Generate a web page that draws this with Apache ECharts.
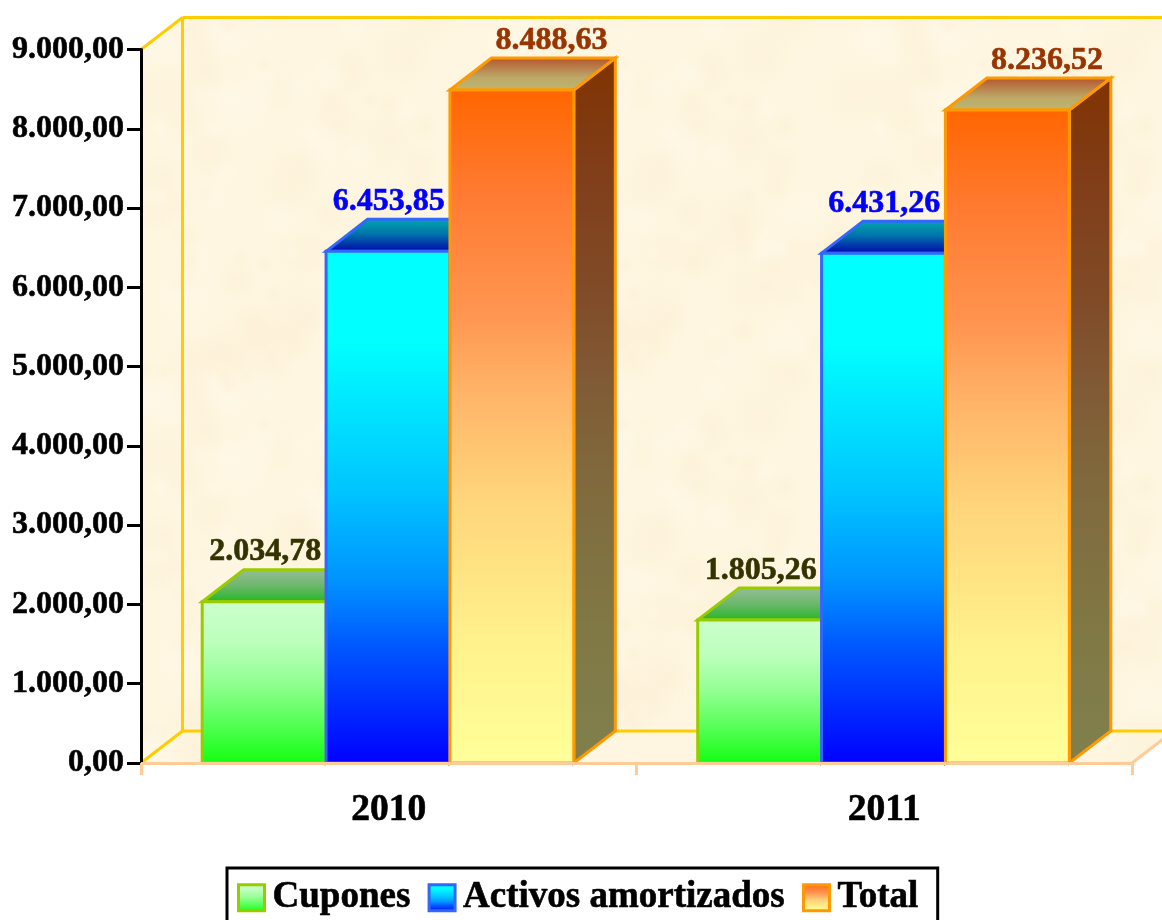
<!DOCTYPE html>
<html>
<head>
<meta charset="utf-8">
<style>html,body{margin:0;padding:0;background:#fff}#c{width:1162px;height:920px}</style>
<script src="https://cdn.jsdelivr.net/npm/echarts@6/dist/echarts.min.js"></script>
</head>
<body>
<div id="c"></div>
<script>
const categories = ['2010', '2011'];
const seriesNames = ['Cupones', 'Activos amortizados', 'Total'];
const cupones = [2034.78, 1805.26];
const activos = [6453.85, 6431.26];
const total = [8488.63, 8236.52];

const DEPTH_X = 41.5, DEPTH_Y = -32, BAR_RATIO = 0.25, SERIF = '"Liberation Serif"';
const LG = (stops) => new echarts.graphic.LinearGradient(0, 0, 0, 1, stops.map(s => ({ offset: s[0], color: s[1] })));
const dim = (stops, k) => stops.map(s => {
  const n = parseInt(s[1].slice(1), 16);
  const c = [n >> 16, (n >> 8) & 255, n & 255].map(v => Math.round(v * k));
  return [s[0], 'rgb(' + c.join(',') + ')'];
});
const looks = [
  { border: '#99CC00', text: '#333300', labelDx: 0.25,
    front: [[0, '#CCFFCC'], [0.25, '#BDFFBD'], [0.5, '#92FF92'], [0.75, '#55FF55'], [1, '#11FF11']],
    top: [[0, '#99BD99'], [0.5, '#6DB76D'], [1, '#1FB81F']] },
  { border: '#3366FF', text: '#0000FF', labelDx: 0,
    front: [[0, '#00FFFF'], [0.18, '#00FFFF'], [0.47, '#00C4FF'], [0.64, '#0094FF'], [0.77, '#0058FF'], [1, '#0000FF']],
    top: [[0, '#00ABAB'], [0.45, '#0075AB'], [1, '#0000AA']] },
  { border: '#FF9900', text: '#993300', labelDx: 38.75,
    front: [[0, '#FF6600'], [0.15, '#FF7A30'], [0.33, '#FF9550'], [0.45, '#FFB468'], [0.6, '#FFD47A'], [0.82, '#FFF28C'], [1, '#FFFF99']],
    top: [[0, '#B5512A'], [0.6, '#BCA868'], [1, '#BDB870']] }
];

// parchment texture of the chart walls (no randomness, a fixed hash)
const tex = document.createElement('canvas');
tex.width = tex.height = 360;
(function () {
  const g = tex.getContext('2d');
  g.fillStyle = '#FEF6E0';
  g.fillRect(0, 0, 360, 360);
  for (let i = 0; i < 110; i++) {
    const a = Math.abs(Math.sin(i * 12.9898) * 43758.5453) % 1;
    const b = Math.abs(Math.sin(i * 78.233) * 24634.6345) % 1;
    const x = a * 360, y = b * 360, r = 10 + (i % 5) * 6;
    const col = i % 3 === 0 ? '255,250,236' : '252,238,210';
    [[0, 0], [360, 0], [0, 360], [-360, 0], [0, -360]].forEach(o => {
      const rg = g.createRadialGradient(x + o[0], y + o[1], 0, x + o[0], y + o[1], r);
      rg.addColorStop(0, 'rgba(' + col + ',0.4)');
      rg.addColorStop(1, 'rgba(' + col + ',0)');
      g.fillStyle = rg;
      g.fillRect(x + o[0] - r, y + o[1] - r, 2 * r, 2 * r);
    });
  }
})();
const TEX = { image: tex, repeat: 'repeat' };

const fmt = (v) => {
  const p = Number(v).toFixed(2).split('.');
  return p[0].replace(/\B(?=(\d{3})+(?!\d))/g, '.') + ',' + p[1];
};

function renderWalls(params, api) {
  const cs = params.coordSys;
  const x0 = cs.x, x1 = cs.x + cs.width, yT = cs.y, yB = cs.y + cs.height;
  const bx0 = x0 + DEPTH_X, bx1 = x1 + DEPTH_X, byT = yT + DEPTH_Y, byB = yB + DEPTH_Y;
  const poly = (points, fill) => ({ type: 'polygon', shape: { points }, style: { fill, stroke: null } });
  const line = (a, b, c, d, col) => ({ type: 'line', shape: { x1: a, y1: b, x2: c, y2: d }, style: { stroke: col, lineWidth: 3 } });
  return { type: 'group', children: [
    poly([[bx0, byT], [bx1, byT], [bx1, byB], [bx0, byB]], TEX),
    poly([[x0, yT], [bx0, byT], [bx0, byB], [x0, yB]], TEX),
    poly([[x0, yB], [bx0, byB], [bx1, byB], [x1, yB]], TEX),
    line(bx0, byT, bx1, byT, '#FFCC00'),
    line(bx0, byT, bx0, byB, '#FFCC00'),
    line(bx0, byB, bx1, byB, '#FFCC00'),
    line(x0, yT, bx0, byT, '#FFCC00'),
    line(x0, yB, bx0, byB, '#FFCC00'),
    line(x1, yB, bx1, byB, '#FFCC99')
  ] };
}

function makeBar(idx) {
  const look = looks[idx];
  return function (params, api) {
    const cat = api.value(0), val = api.value(1);
    const base = api.coord([cat, 0]), peak = api.coord([cat, val]);
    const w = api.size([1, 0])[0] * BAR_RATIO;
    const x = base[0] + (idx - 1.5) * w - 0.75, y = peak[1], y0 = base[1];
    const sty = (fill) => ({ fill, stroke: look.border, lineWidth: 3, lineJoin: 'miter' });
    return { type: 'group', children: [
      { type: 'polygon', shape: { points: [[x + w, y], [x + w + DEPTH_X, y + DEPTH_Y], [x + w + DEPTH_X, y0 + DEPTH_Y], [x + w, y0]] }, style: sty(LG(dim(look.front, 0.5))) },
      { type: 'polygon', shape: { points: [[x, y], [x + DEPTH_X, y + DEPTH_Y], [x + w + DEPTH_X, y + DEPTH_Y], [x + w, y]] }, style: sty(LG(look.top)) },
      { type: 'rect', shape: { x, y, width: w, height: y0 - y }, style: sty(LG(look.front)) },
      { type: 'text', z2: 50, style: { text: fmt(val), x: x + w / 2 + look.labelDx + 0.75, y: y + DEPTH_Y - 1.5, align: 'center', verticalAlign: 'bottom', fill: look.text, stroke: look.text, lineWidth: 0.6, font: 'bold 32px ' + SERIF } }
    ] };
  };
}

const rows = (arr) => arr.map((v, i) => [i, v]);
const chart = echarts.init(document.getElementById('c'), null, { renderer: 'canvas' });
chart.setOption({
  animation: false,
  backgroundColor: '#FFFFFF',
  grid: { left: 141, top: 49.5, right: 30, bottom: 157 },
  tooltip: { show: false },
  xAxis: {
    type: 'category', data: categories, boundaryGap: true, z: 5,
    axisLine: { lineStyle: { color: '#FFCC99', width: 3 } },
    axisTick: { show: true, length: 12, lineStyle: { color: '#FFCC99', width: 3 } },
    axisLabel: { color: '#000', fontFamily: SERIF, fontWeight: 'bold', fontSize: 37.5, margin: 28, textBorderColor: '#000', textBorderWidth: 0.6 }
  },
  yAxis: {
    type: 'value', min: 0, max: 9000, interval: 1000, z: 5,
    splitLine: { show: false },
    axisLine: { show: true, lineStyle: { color: '#000', width: 3 } },
    axisTick: { show: true, length: 14, lineStyle: { color: '#000', width: 3 } },
    axisLabel: { color: '#000', fontFamily: SERIF, fontWeight: 'bold', fontSize: 32, margin: 17, padding: [4, 0, 0, 0], textBorderColor: '#000', textBorderWidth: 0.6, formatter: fmt }
  },
  legend: {
    left: 227, top: 868, orient: 'horizontal', itemWidth: 26, itemHeight: 26, itemGap: 17,
    padding: [11, 19, 14, 10], backgroundColor: '#fff', borderColor: '#000', borderWidth: 3, selectedMode: false,
    textStyle: { color: '#000', fontFamily: SERIF, fontWeight: 'bold', fontSize: 37, padding: [0, 0, 0, 3], textBorderColor: '#000', textBorderWidth: 0.6 },
    data: seriesNames.map((n, i) => ({ name: n, icon: 'rect', itemStyle: { color: LG(looks[i].front), borderColor: looks[i].border, borderWidth: 3 } }))
  },
  series: [
    { type: 'custom', name: 'walls', z: 1, silent: true, clip: false, renderItem: renderWalls, data: [[0, 0]], encode: { x: 0, y: 1 } },
    { type: 'custom', name: seriesNames[0], z: 2, clip: false, renderItem: makeBar(0), data: rows(cupones), encode: { x: 0, y: 1 } },
    { type: 'custom', name: seriesNames[1], z: 3, clip: false, renderItem: makeBar(1), data: rows(activos), encode: { x: 0, y: 1 } },
    { type: 'custom', name: seriesNames[2], z: 4, clip: false, renderItem: makeBar(2), data: rows(total), encode: { x: 0, y: 1 } }
  ]
});
</script>
</body>
</html>
